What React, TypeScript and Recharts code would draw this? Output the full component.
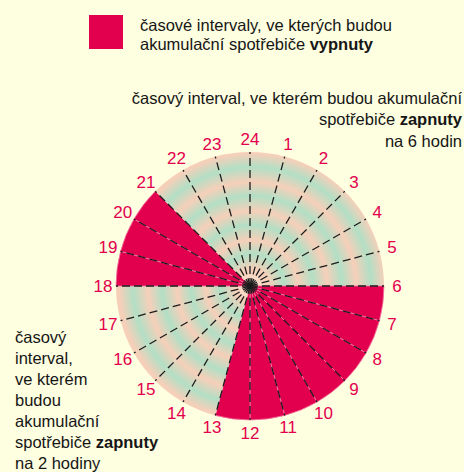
import { PieChart, Pie, Cell } from "recharts";

// hour marks around the dial, starting at the top and going clockwise
const hourLabels = [
  "24", "1", "2", "3", "4", "5", "6", "7", "8", "9", "10", "11",
  "12", "13", "14", "15", "16", "17", "18", "19", "20", "21", "22", "23",
];

// 1 = appliances switched off during that hour (slice i covers hour i -> i+1)
const switchedOff = [
  0, 0, 0, 0, 0, 0, 1, 1, 1, 1, 1, 1,
  1, 0, 0, 0, 0, 0, 1, 1, 1, 0, 0, 0,
];

const sliceValues = hourLabels.map(() => 1);

const legendLines = ["časové intervaly, ve kterých budou", "akumulační spotřebiče "];
const nightText = ["časový interval, ve kterém budou akumulační", "spotřebiče ", "na 6 hodin"];
const dayText = ["časový", "interval,", "ve kterém", "budou", "akumulační", "spotřebiče "];

const CRIMSON = "#e2004e";
const BG = "#fefee0";
const PEACH = "#f6cfb9";
const MINT = "#b2dfc5";
const FONT = '"Liberation Sans", Arial, sans-serif';

const RAD = Math.PI / 180;

const data = hourLabels.map((hour, i) => ({
  hour,
  value: sliceValues[i],
  off: switchedOff[i] === 1,
}));

// dashed hour ray + hour number, drawn at the start edge of each slice
const renderHour = (props: any) => {
  const { cx, cy, outerRadius, index } = props;
  const start = props.startAngle ?? props.midAngle + 7.5;
  const cos = Math.cos(-start * RAD);
  const sin = Math.sin(-start * RAD);
  const lr = outerRadius + 13;
  return (
    <g key={`hour-${index}`}>
      <line
        x1={cx}
        y1={cy}
        x2={cx + outerRadius * cos}
        y2={cy + outerRadius * sin}
        stroke="#1c1c1c"
        strokeWidth={1.3}
        strokeDasharray="8 4"
      />
      <text
        x={cx + lr * cos}
        y={cy + lr * sin}
        textAnchor="middle"
        dominantBaseline="central"
        fill={CRIMSON}
        fontSize={17}
        fontFamily={FONT}
      >
        {hourLabels[index]}
      </text>
    </g>
  );
};

const textStyle = {
  position: "absolute" as const,
  fontFamily: FONT,
  fontSize: 16.5,
  color: "#161616",
  whiteSpace: "nowrap" as const,
};

export default function App() {
  return (
    <div
      style={{
        position: "absolute",
        left: 0,
        top: 0,
        width: 464,
        height: 472,
        background: BG,
        overflow: "hidden",
      }}
    >
      <PieChart width={464} height={472} margin={{ top: 0, right: 0, bottom: 0, left: 0 }}>
        <defs>
          <radialGradient id="rings" gradientUnits="userSpaceOnUse" cx={252} cy={286} r={134}>
            <stop offset="0" stopColor="#fae3d3" />
            <stop offset="0.127" stopColor={PEACH} />
            <stop offset="0.239" stopColor={MINT} />
            <stop offset="0.343" stopColor={PEACH} />
            <stop offset="0.455" stopColor={MINT} />
            <stop offset="0.56" stopColor={PEACH} />
            <stop offset="0.672" stopColor={MINT} />
            <stop offset="0.776" stopColor={PEACH} />
            <stop offset="0.888" stopColor={MINT} />
            <stop offset="0.99" stopColor={PEACH} />
            <stop offset="1" stopColor={PEACH} />
          </radialGradient>
        </defs>
        <Pie
          data={data}
          dataKey="value"
          cx={250}
          cy={286}
          innerRadius={0}
          outerRadius={134}
          startAngle={90}
          endAngle={-270}
          stroke="none"
          isAnimationActive={false}
        >
          {data.map((d, i) => (
            <Cell
              key={i}
              fill={d.off ? CRIMSON : "url(#rings)"}
              stroke={d.off ? "#f47aa3" : "none"}
              strokeWidth={d.off ? 0.8 : 0}
            />
          ))}
        </Pie>
        <Pie
          data={data}
          dataKey="value"
          cx={250}
          cy={286}
          innerRadius={0}
          outerRadius={134}
          startAngle={90}
          endAngle={-270}
          fill="none"
          stroke="none"
          label={renderHour}
          labelLine={false}
          isAnimationActive={false}
        />
      </PieChart>

      {/* legend */}
      <div style={{ position: "absolute", left: 89, top: 15, width: 34, height: 34, background: CRIMSON }} />
      <div style={{ ...textStyle, left: 140, top: 15.5, lineHeight: "19.5px" }}>
        <div>{legendLines[0]}</div>
        <div>
          {legendLines[1]}
          <b>vypnuty</b>
        </div>
      </div>

      {/* night interval note */}
      <div style={{ ...textStyle, right: 2, top: 87.5, lineHeight: "21.5px", textAlign: "right" }}>
        <div>{nightText[0]}</div>
        <div>
          {nightText[1]}
          <b>zapnuty</b>
        </div>
        <div>{nightText[2]}</div>
      </div>

      {/* day interval note */}
      <div style={{ ...textStyle, left: 15, top: 327, lineHeight: "21px" }}>
        {dayText.slice(0, 5).map((t) => (
          <div key={t}>{t}</div>
        ))}
        <div>
          {dayText[5]}
          <b>zapnuty</b>
        </div>
        <div>na 2 hodiny</div>
      </div>
    </div>
  );
}
